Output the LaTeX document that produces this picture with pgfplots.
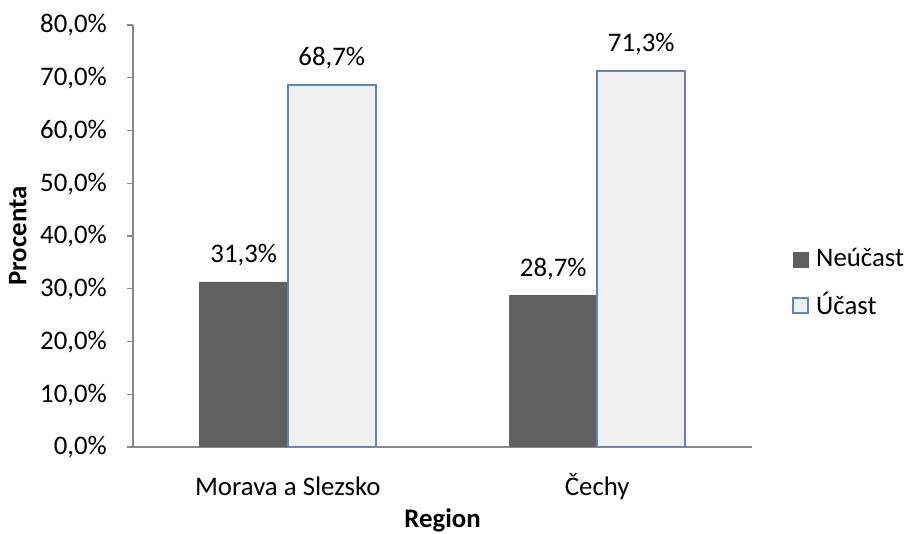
\documentclass[border=0pt]{standalone}
\usepackage{fontspec}
\setmainfont{Carlito}
\usepackage{pgfplots}
\pgfplotsset{compat=1.18}
\definecolor{darkbar}{HTML}{606060}
\definecolor{lightbar}{HTML}{F0F0F0}
\definecolor{blueedge}{HTML}{5B87C0}
\definecolor{axisgray}{HTML}{888888}
\begin{document}
\begin{tikzpicture}[font=\fontsize{26.8}{32}\selectfont]
\begin{axis}[
  name=ax,
  scale only axis,
  width=619pt, height=422pt,
  xmin=-0.5, xmax=1.5, ymin=0, ymax=80,
  ybar=0pt, bar width=88pt,
  axis lines*=left,
  axis line style={axisgray, line width=1.3pt},
  xtick={0,1},
  xticklabels={Morava a Slezsko, Čechy},
  xtick style={draw=none},
  minor xtick={-0.5,0.5,1.5},
  ytick={0,10,...,80},
  tick align=outside,
  major tick length=6pt, minor tick length=6pt,
  every tick/.style={axisgray, line width=1.3pt},
  minor tick style={axisgray, line width=1.3pt},
  ytick style={axisgray, line width=1.3pt},
  /pgf/number format/assume math mode=true,
  yticklabel={\pgfmathprintnumber[fixed,fixed zerofill,precision=1,use comma]{\tick}\%},
  yticklabel style={anchor=base east, inner sep=0pt, xshift=-20pt, yshift=-8pt},
  xticklabel style={anchor=base, inner sep=0pt, yshift=-43pt},
  ylabel={\bfseries Procenta},
  xlabel={\bfseries Region},
  every axis y label/.style={at={(axis description cs:-0.186,0.5)}, rotate=90, anchor=center},
  every axis x label/.style={at={(axis description cs:0.5,-0.173)}, anchor=center},
  nodes near coords={\pgfmathprintnumber[fixed,fixed zerofill,precision=1,use comma,assume math mode=true]{\pgfplotspointmeta}\%},
  every node near coord/.append style={anchor=base, inner sep=0pt, yshift=19.5pt, black},
  legend style={draw=none, fill=none, at={(axis description cs:1.0646,0.391)}, anchor=west,
    inner sep=0pt, row sep=24pt, column sep=7pt, nodes={inner sep=0pt}},
  legend cell align=left,
  legend image code/.code={\draw[#1] (0pt,-9pt) rectangle (15pt,6pt);},
]
\addplot[fill=darkbar, draw=darkbar, line width=0.5pt] coordinates {(0,31.3) (1,28.7)};
\addplot[fill=lightbar, draw=blueedge, line width=2pt] coordinates {(0,68.7) (1,71.3)};
\legend{Neúčast, Účast}
\end{axis}
\pgfresetboundingbox
\path[use as bounding box] (ax.south west) ++(-133pt,-87pt) rectangle ++(905pt,534pt);
\end{tikzpicture}
\end{document}
